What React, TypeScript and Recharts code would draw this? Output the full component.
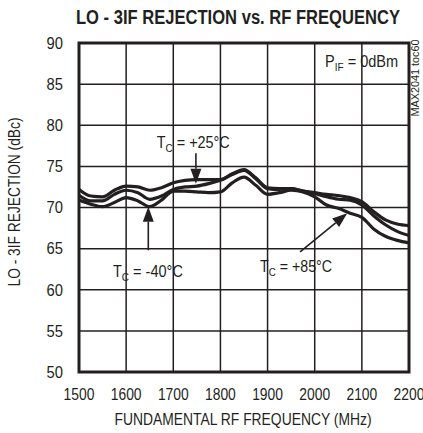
import React from "react";
import {
  LineChart,
  Line,
  XAxis,
  YAxis,
  CartesianGrid,
  ReferenceArea,
  ReferenceLine,
  ReferenceDot,
} from "recharts";

const FONT = '"Liberation Sans", Arial, sans-serif';
const INK = "#231f20";

const FREQ = [
  1500, 1525, 1550, 1575, 1600, 1625, 1650, 1675, 1700, 1725, 1750, 1775, 1800, 1825, 1850,
  1875, 1900, 1925, 1950, 1975, 2000, 2025, 2050, 2075, 2100, 2125, 2150, 2175, 2200,
];

const TC_25 = [
  72.2, 71.4, 71.3, 72.1, 72.6, 72.5, 72.1, 72.4, 73.0, 73.3, 73.4, 73.4, 73.4, 74.1, 74.6,
  73.6, 72.4, 72.3, 72.3, 72.0, 71.8, 71.6, 71.45, 71.2, 70.7, 69.5, 68.5, 68.0, 67.8,
];
const TC_M40 = [
  71.5, 70.8, 70.8, 71.6, 72.1, 71.8, 71.0, 71.4, 72.2, 72.5, 72.6, 72.9, 73.3, 74.0, 74.5,
  73.5, 72.3, 72.2, 72.3, 72.0, 71.7, 71.3, 71.0, 70.9, 70.3, 69.0, 67.9, 67.1, 66.6,
];
const TC_85 = [
  70.9, 70.4, 70.1, 70.6, 71.2, 70.8, 70.1, 70.9, 72.0, 72.0, 71.9, 71.8, 71.9, 73.0, 73.7,
  72.7, 71.6, 71.8, 72.1, 71.9, 71.3, 70.3, 69.9, 69.3, 68.8, 67.4, 66.5, 66.0, 65.7,
];

const X_TICKS = [1500, 1600, 1700, 1800, 1900, 2000, 2100, 2200];
const Y_TICKS = [50, 55, 60, 65, 70, 75, 80, 85, 90];

const rows = FREQ.map((f, i) => ({ f, a: TC_25[i], b: TC_M40[i], c: TC_85[i] }));

// fonts here are wider than the condensed original, so squeeze with textLength
const DIGIT_W = 7.7;

function XTick(p: any) {
  const s = String(p.payload.value);
  return (
    <text
      x={p.x}
      y={p.y}
      dy="0.71em"
      textAnchor="middle"
      fill={INK}
      fontFamily={FONT}
      fontSize={16}
      textLength={s.length * DIGIT_W}
      lengthAdjust="spacingAndGlyphs"
    >
      {s}
    </text>
  );
}

function YTick(p: any) {
  const s = String(p.payload.value);
  return (
    <text
      x={p.x}
      y={p.y}
      dy="0.36em"
      textAnchor="end"
      fill={INK}
      fontFamily={FONT}
      fontSize={16}
      textLength={s.length * 8.2}
      lengthAdjust="spacingAndGlyphs"
    >
      {s}
    </text>
  );
}

// label text: main + subscript + rest, baseline start at (cx, cy)
function subLabel(main: string, sub: string, rest: string, w: number) {
  return (p: any) => (
    <text
      x={p.cx}
      y={p.cy}
      fill={INK}
      fontFamily={FONT}
      fontSize={16}
      textLength={w}
      lengthAdjust="spacingAndGlyphs"
    >
      <tspan>{main}</tspan>
      <tspan dy={4} fontSize={11}>{sub}</tspan>
      <tspan dy={-4}>{rest}</tspan>
    </text>
  );
}

function arrowShape(p: any) {
  const { x1, y1, x2, y2 } = p;
  const dx = x2 - x1;
  const dy = y2 - y1;
  const len = Math.sqrt(dx * dx + dy * dy) || 1;
  const ux = dx / len;
  const uy = dy / len;
  const hl = 15;
  const hw = 5.5;
  const bx = x2 - ux * hl;
  const by = y2 - uy * hl;
  return (
    <g>
      <line x1={x1} y1={y1} x2={bx} y2={by} stroke={INK} strokeWidth={1.6} />
      <polygon
        points={`${x2},${y2} ${bx - uy * hw},${by + ux * hw} ${bx + uy * hw},${by - ux * hw}`}
        fill={INK}
      />
    </g>
  );
}

export default function App() {
  return (
    <div style={{ position: "absolute", left: 0, top: 0, width: 423, height: 433, background: "#fff" }}>
      <LineChart
        width={423}
        height={433}
        data={rows}
        margin={{ top: 43, right: 14, left: 0, bottom: 0 }}
      >
        <CartesianGrid stroke={INK} strokeWidth={1.5} />
        <XAxis
          dataKey="f"
          type="number"
          domain={[1500, 2200]}
          ticks={X_TICKS}
          axisLine={false}
          tickLine={false}
          tickSize={0}
          tickMargin={17}
          height={61}
          tick={XTick}
          interval={0}
        />
        <YAxis
          type="number"
          domain={[50, 90]}
          ticks={Y_TICKS}
          axisLine={false}
          tickLine={false}
          tickSize={0}
          tickMargin={16}
          width={79}
          tick={YTick}
          interval={0}
        />
        <Line dataKey="a" type="monotone" stroke={INK} strokeWidth={3.2} dot={false} isAnimationActive={false} />
        <Line dataKey="b" type="monotone" stroke={INK} strokeWidth={3.2} dot={false} isAnimationActive={false} />
        <Line dataKey="c" type="monotone" stroke={INK} strokeWidth={3.2} dot={false} isAnimationActive={false} />
        <ReferenceArea x1={1500} x2={2200} y1={50} y2={90} fill="none" stroke={INK} strokeWidth={3} fillOpacity={0} />
        <ReferenceLine segment={[{ x: 1748, y: 76.6 }, { x: 1748, y: 72.9 }]} shape={arrowShape} />
        <ReferenceLine segment={[{ x: 1647, y: 64.8 }, { x: 1647, y: 70.1 }]} shape={arrowShape} />
        <ReferenceLine segment={[{ x: 1969, y: 64.6 }, { x: 2069, y: 69.3 }]} shape={arrowShape} />
        <ReferenceDot x={1665} y={77.2} r={0} shape={subLabel("T", "C", " = +25°C", 73)} />
        <ReferenceDot x={1572} y={61.55} r={0} shape={subLabel("T", "C", " = -40°C", 70)} />
        <ReferenceDot x={1884} y={62.1} r={0} shape={subLabel("T", "C", " = +85°C", 72)} />
        <ReferenceDot x={2022} y={87.1} r={0} shape={subLabel("P", "IF", " = 0dBm", 73)} />
      </LineChart>
      <svg
        width={423}
        height={433}
        style={{ position: "absolute", left: 0, top: 0, pointerEvents: "none" }}
      >
        <text
          x={238}
          y={24}
          textAnchor="middle"
          fontFamily={FONT}
          fontWeight="bold"
          fontSize={20}
          fill={INK}
          textLength={324}
          lengthAdjust="spacingAndGlyphs"
        >
          LO - 3IF REJECTION vs. RF FREQUENCY
        </text>
        <text
          x={0}
          y={0}
          transform="translate(20 202) rotate(-90)"
          textAnchor="middle"
          fontFamily={FONT}
          fontSize={16}
          fill={INK}
          textLength={169}
          lengthAdjust="spacingAndGlyphs"
        >
          LO - 3IF REJECTION (dBc)
        </text>
        <text
          x={243}
          y={425}
          textAnchor="middle"
          fontFamily={FONT}
          fontSize={16}
          fill={INK}
          textLength={257}
          lengthAdjust="spacingAndGlyphs"
        >
          FUNDAMENTAL RF FREQUENCY (MHz)
        </text>
        <text
          x={0}
          y={0}
          transform="translate(419 78) rotate(-90)"
          textAnchor="middle"
          fontFamily={FONT}
          fontSize={10}
          fill={INK}
          textLength={77}
          lengthAdjust="spacingAndGlyphs"
        >
          MAX2041 toc60
        </text>
      </svg>
    </div>
  );
}
